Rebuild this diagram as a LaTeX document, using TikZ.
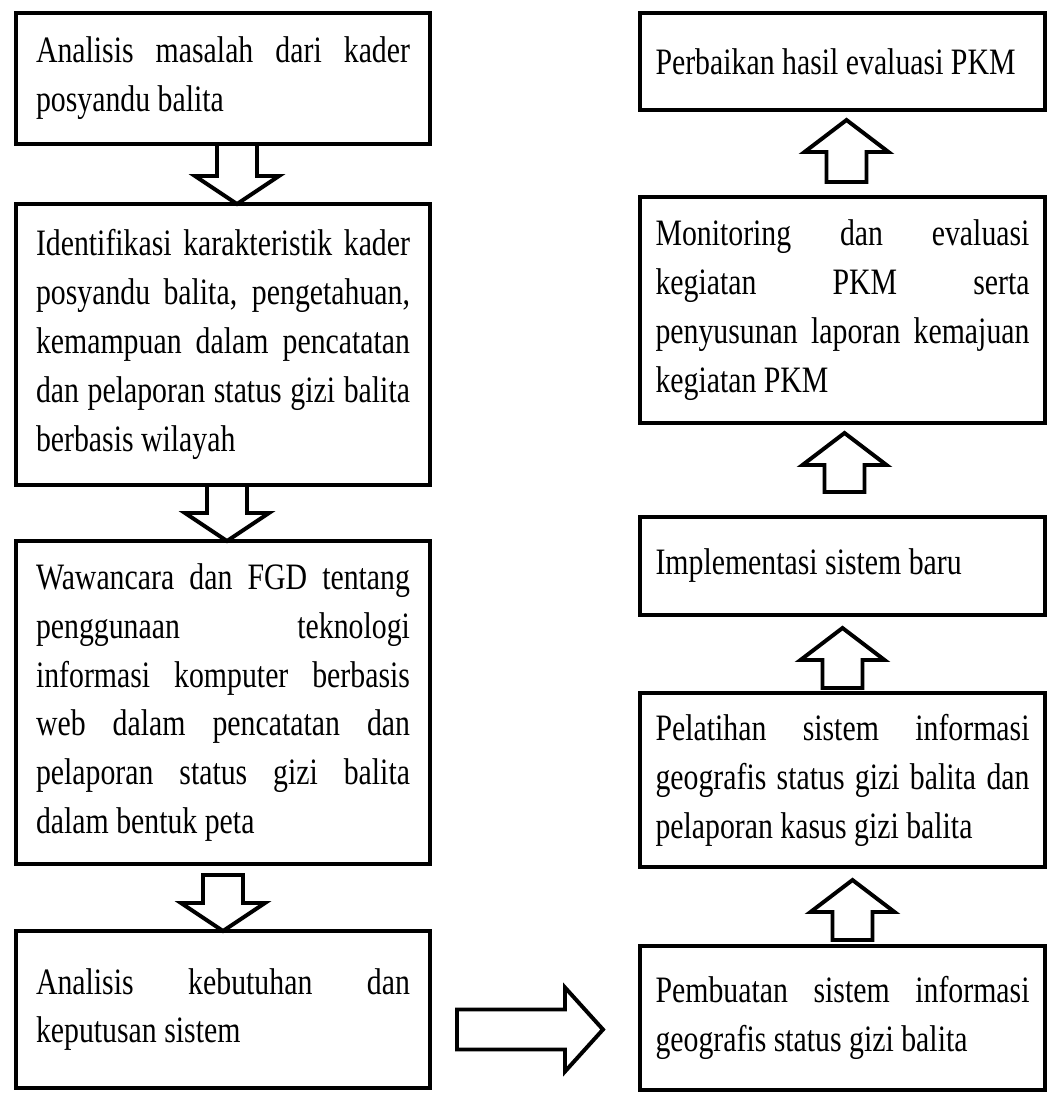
\documentclass[tikz,border=0pt]{standalone}
\usepackage{fontspec}
\setmainfont{Liberation Serif}[FakeStretch=0.80]
\usetikzlibrary{calc}
\newcommand{\stagefont}{\fontsize{26.5}{34.8}\selectfont\sloppy\hyphenpenalty=10000}
\tikzset{
  stage/.style={draw,line width=2.8pt,anchor=north west,inner sep=0pt,outer sep=0pt,
    text width=93.5mm,align=justify,font=\stagefont},
  % hollow block arrow from start to target, #1 = head length
  blockarrow/.style={draw,line width=2.8pt,line join=miter,to path={
    let \p1=(\tikztostart), \p2=(\tikztotarget), \p3=($(\p2)!#1!(\p1)$) in
    ($(\p1)!5mm!90:(\p2)$) -- ($(\p3)!5mm!-90:(\p1)$) -- ($(\p3)!10.5mm!-90:(\p1)$)
    -- (\p2) -- ($(\p3)!10.5mm!90:(\p1)$) -- ($(\p3)!5mm!90:(\p1)$)
    -- ($(\p1)!5mm!-90:(\p2)$) -- cycle}},
  blockarrow/.default=7mm
}

\begin{document}
\begin{tikzpicture}[x=0.25mm,y=-0.25mm]
  \useasboundingbox (0,0) rectangle (1049,1101);
  % left column
  \node[stage,minimum width=103.5mm,minimum height=32.75mm] (l1) at (16,13)
    {Analisis masalah dari kader\linebreak posyandu balita};
  \node[stage,minimum width=103.5mm,minimum height=70.25mm] (l2) at (16,204)
    {Identifikasi karakteristik kader\linebreak posyandu balita, pengetahuan,\linebreak
     kemampuan dalam pencatatan\linebreak dan pelaporan status gizi balita\linebreak
     berbasis wilayah};
  \node[stage,minimum width=103.5mm,minimum height=80.75mm] (l3) at (16,541)
    {Wawancara dan FGD tentang\linebreak penggunaan teknologi\linebreak
     informasi komputer berbasis\linebreak web dalam pencatatan dan\linebreak
     pelaporan status gizi balita\linebreak dalam bentuk peta};
  \node[stage,minimum width=103.5mm,minimum height=39.25mm] (l4) at (16,931)
    {Analisis kebutuhan dan\linebreak keputusan sistem};
  % right column
  \node[stage,minimum width=101.25mm,minimum height=24.25mm] (r1) at (640,13)
    {Perbaikan hasil evaluasi PKM};
  \node[stage,minimum width=101.25mm,minimum height=56.5mm] (r2) at (640,197)
    {Monitoring dan evaluasi\linebreak kegiatan PKM serta\linebreak
     penyusunan laporan kemajuan\linebreak kegiatan PKM};
  \node[stage,minimum width=101.25mm,minimum height=24.5mm] (r3) at (640,517)
    {Implementasi sistem baru};
  \node[stage,minimum width=101.25mm,minimum height=43.5mm] (r4) at (640,693)
    {Pelatihan sistem informasi\linebreak geografis status gizi balita dan\linebreak
     pelaporan kasus gizi balita};
  \node[stage,minimum width=101.25mm,minimum height=36mm] (r5) at (640,946)
    {Pembuatan sistem informasi\linebreak geografis status gizi balita};

  % arrows
  \draw[blockarrow] ($(l1.south)+(14,0)$) to ($(l2.north)+(14,0)$);
  \draw[blockarrow] ($(l2.south)+(4,0)$) to ($(l3.north)+(4,0)$);
  \draw[blockarrow] ($(l3.south)+(0,11)$) to (l4.north);
  \draw[blockarrow=9.5mm] ($(l4.east)+(27,20)$) to ($(l4.east -| r5.west)+(-37,20)$);
  \draw[blockarrow=8mm] ($(r5.north -| r4.south)+(10,-6)$) to ($(r4.south)+(10,13)$);
  \draw[blockarrow=8mm] ($(r4.north)+(0,-5)$) to ($(r3.south)+(0,13)$);
  \draw[blockarrow=8mm] ($(r3.north)+(2,-25)$) to ($(r2.south)+(2,10)$);
  \draw[blockarrow=8mm] ($(r2.north)+(4,-15)$) to ($(r1.south)+(4,10)$);
\end{tikzpicture}
\end{document}
